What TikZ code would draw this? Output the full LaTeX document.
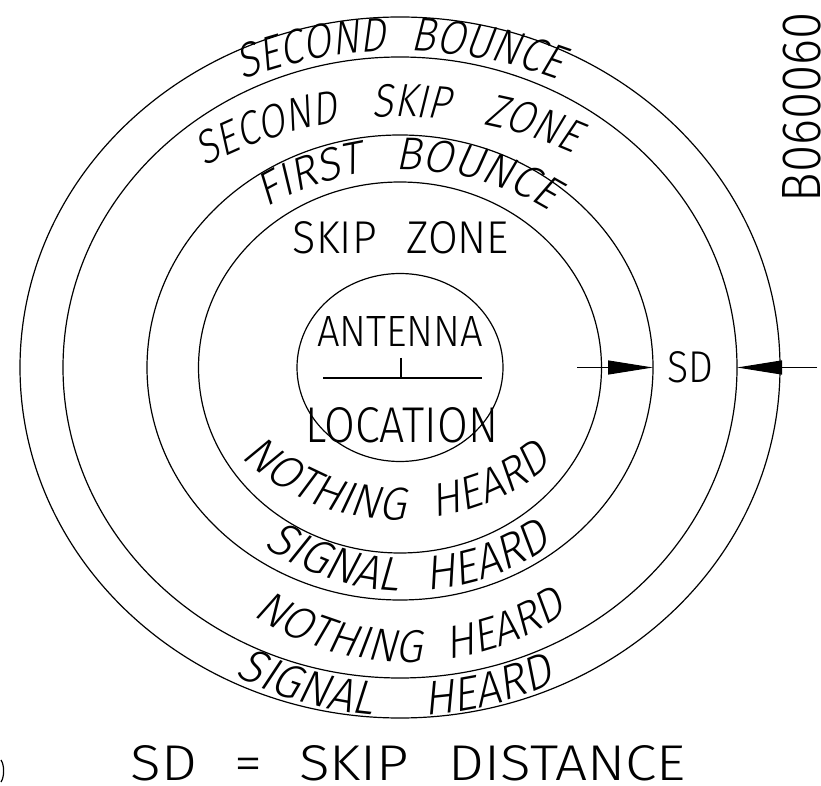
\documentclass[tikz,border=0pt]{standalone}
\usepackage{fontspec}
\newfontfamily\cadup{Fira Sans Light}
\newfontfamily\cadsl{Fira Sans Light}[FakeStretch=0.95,FakeSlant=0.2]
\newfontfamily\cadslc{Fira Sans Light}[FakeStretch=0.85,FakeSlant=0.2]
\newcommand\cadsize[1]{\cadsl\fontsize{#1}{#1}\selectfont}
\newcommand\cadsizec[1]{\cadslc\fontsize{#1}{#1}\selectfont}
\newcommand\cadbox[3]{\resizebox{#1}{#2}{\cadup\fontsize{40}{40}\selectfont #3}}
\usetikzlibrary{arrows.meta,shapes.geometric,decorations.text}

\tikzset{
  ring/.style={draw,ellipse,line width=1.2pt,inner sep=0pt,outer sep=0pt},
  cadtext/.style={inner sep=0pt,anchor=base},
  arctext/.style={decorate,decoration={text along path,
      text align={fit to path stretching spaces},text={#1}}},
  sdarrow/.style={line width=1.2pt,-{Triangle[length=45pt,width=14pt]}}
}

\begin{document}
\begin{tikzpicture}[x=1pt,y=1pt]
\useasboundingbox (0,0) rectangle (821,785);
\coordinate (ctr) at (400,417.5);
% rings
\node[ring,minimum width=760pt,minimum height=701pt] (bounce2out) at (ctr) {};
\node[ring,minimum width=674pt,minimum height=621pt] (bounce2in)  at (ctr) {};
\node[ring,minimum width=506pt,minimum height=465pt] (bounce1out) at (ctr) {};
\node[ring,minimum width=403pt,minimum height=371pt] (bounce1in)  at (ctr) {};
\node[ring,minimum width=206pt,minimum height=188pt] (antenna)    at (ctr) {};
% antenna symbol
\coordinate (gndL) at (323,407);
\coordinate (gndR) at (482,407);
\coordinate (mast) at (401,427);
\draw[line width=1.2pt] (gndL) -- (gndR);
\draw[line width=1.2pt] (mast) -- (mast |- gndL);
\node[cadtext] (antlabel)  at (400,438)   {\cadbox{166pt}{30pt}{ANTENNA}};
\node[cadtext] (loclabel)  at (401.5,342) {\cadbox{193pt}{35pt}{LOCATION}};
\node[cadtext] (skiplabel) at (401,531)   {\cadbox{216pt}{32pt}{SKIP\hspace{0.7em}ZONE}};
% curved labels
\path[arctext={|\cadsizec{48}|SECOND BOUNCE}]
  (400,285) ++(110.5:449pt) arc[start angle=110.5,end angle=69.5,radius=449pt];
\path[arctext={|\cadsizec{46.5}|SECOND SKIP ZONE}]
  (403,250) ++(118.3:418pt) arc[start angle=118.3,end angle=66,radius=418pt];
\path[arctext={|\cadsize{46}|FIRST BOUNCE}]
  (405,343) ++(120.6:272pt) arc[start angle=120.6,end angle=58.1,radius=272pt];
\path[arctext={|\cadsize{46.5}|NOTHING HEARD}]
  (400,500) ++(227.2:235pt) arc[start angle=227.2,end angle=310.5,radius=235pt];
\path[arctext={|\cadsize{48}|SIGNAL HEARD}]
  (407,446) ++(235.4:252pt) arc[start angle=235.4,end angle=305.4,radius=252pt];
\path[arctext={|\cadsize{46}|NOTHING HEARD}]
  (408,405) ++(236.6:282pt) arc[start angle=236.6,end angle=304.6,radius=282pt];
\path[arctext={|\cadsize{48}|SIGNAL HEARD}]
  (402,436) ++(242.9:367pt) arc[start angle=242.9,end angle=294.8,radius=367pt];
% skip distance
\coordinate (sdL) at (577,417.5);
\coordinate (sdR) at (817,417.5);
\draw[sdarrow] (sdL) -- (bounce1out.east);
\draw[sdarrow] (sdR) -- (bounce2in.east);
\node[cadtext] (sdlabel) at (690,402) {\cadbox{46pt}{31pt}{SD}};
\node[cadtext] (legend) at (408.5,5)
  {\cadbox{555pt}{35pt}{SD\hspace{0.65em}=\hspace{0.65em}SKIP\hspace{0.7em}DISTANCE}};
\node[cadtext,rotate=90] (drawno) at (820,678) {\cadbox{190pt}{38pt}{B060060}};
\draw[line width=1.2pt] (1,25) .. controls (4.5,20) and (4.5,8) .. (1,3);
\end{tikzpicture}
\end{document}
